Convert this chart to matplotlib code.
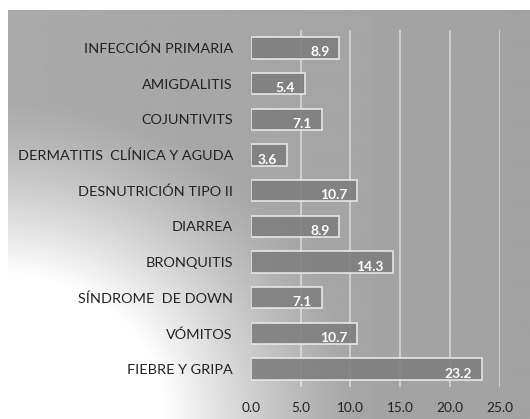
import numpy as np
import matplotlib
matplotlib.use("Agg")
import matplotlib.pyplot as plt

# datos
categorias = ["INFECCIÓN PRIMARIA", "AMIGDALITIS", "COJUNTIVITS",
              "DERMATITIS  CLÍNICA Y AGUDA", "DESNUTRICIÓN TIPO II", "DIARREA",
              "BRONQUITIS", "SÍNDROME  DE DOWN", "VÓMITOS", "FIEBRE Y GRIPA"]
valores = [8.9, 5.4, 7.1, 3.6, 10.7, 8.9, 14.3, 7.1, 10.7, 23.2]
ticks_x = [0, 5, 10, 15, 20, 25]

plt.rcParams['font.family'] = ['Lato', 'DejaVu Sans']

W, H = 530, 419
fig = plt.figure(figsize=(W / 100, H / 100), dpi=100)

# fondo gris con un brillo blanco abajo a la izquierda
bg = fig.add_axes([8 / W, 0, 1 - 8 / W, (H - 10) / H])
bg.set_axis_off()
xx, yy = np.meshgrid(np.linspace(8, W, 300), np.linspace(10, H, 250))
d = np.sqrt((xx / 365.0) ** 2 + ((H - yy) / 320.0) ** 2)
glow = np.clip((1.0 - d) / 0.55, 0, 1) ** 1.3
base = 170 - 8 * (xx / W)
img = base + (255 - base) * glow
bg.imshow(img, cmap="gray", vmin=0, vmax=255, aspect="auto",
          extent=(0, 1, 0, 1), origin="upper", interpolation="bilinear")
bg.set_xlim(0, 1)
bg.set_ylim(0, 1)

ax = fig.add_axes([251 / W, (H - 387) / H, (499.5 - 251) / W, (387 - 30) / H])
ax.patch.set_alpha(0)
y = np.arange(len(categorias))
for gx in ticks_x[1:]:
    ax.axvline(gx, color="white", alpha=0.55, lw=1.2, zorder=1)
ax.barh(y, valores, height=0.6, color="#7f7f7f", alpha=0.9,
        edgecolor="#e8e8e8", linewidth=1.3, zorder=2)
for yi, v in zip(y, valores):
    ax.text(v - 1.0, yi + 0.13, f"{v:.1f}", ha="right", va="center",
            color="white", fontsize=10, fontweight="bold", zorder=3)

ax.set_xlim(0, 25)
ax.set_ylim(len(categorias) - 0.5, -0.5)
ax.set_yticks(y)
ax.set_yticklabels(categorias, fontsize=10.4, color="#222222")
ax.set_xticks(ticks_x)
ax.set_xticklabels([f"{t:.1f}" for t in ticks_x], fontsize=9.8, color="#222222")
ax.tick_params(axis="y", length=0, pad=13)
ax.tick_params(axis="x", length=0, pad=11)
for s in ax.spines.values():
    s.set_visible(False)

fig.savefig("out.png", dpi=100)
